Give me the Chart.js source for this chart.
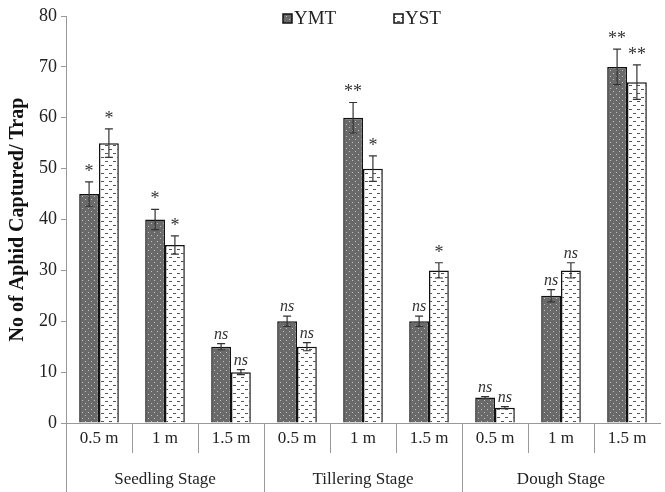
<!DOCTYPE html>
<html>
<head>
<meta charset="utf-8">
<script src="https://cdn.jsdelivr.net/npm/chart.js@4.4.0/dist/chart.umd.min.js"></script>
<style>
  body { margin: 0; background: #fff; }
  #wrap { width: 665px; height: 492px; }
</style>
</head>
<body>
<div id="wrap"><canvas id="myChart" width="665" height="492"></canvas></div>
<script>
// data
const stages = ['Seedling Stage', 'Tillering Stage', 'Dough Stage'];
const distances = ['0.5 m', '1 m', '1.5 m'];
const yTicks = [0, 10, 20, 30, 40, 50, 60, 70, 80];

const ymtValues = [45, 40, 15, 20, 60, 20, 5, 25, 70];
const ystValues = [55, 35, 10, 15, 50, 30, 3, 30, 67];
const ymtErrors = [2.4, 2.0, 0.6, 1.0, 3.0, 1.0, 0.2, 1.2, 3.5];
const ystErrors = [2.8, 1.8, 0.5, 0.8, 2.5, 1.5, 0.2, 1.5, 3.4];
const ymtSig = ['*', '*', 'ns', 'ns', '**', 'ns', 'ns', 'ns', '**'];
const ystSig = ['*', '*', 'ns', 'ns', '*', '*', 'ns', 'ns', '**'];

const categories = [];
stages.forEach(s => distances.forEach(d => categories.push(d)));

const serif = '"Liberation Serif", "Times New Roman", serif';

// fill patterns
function dotPattern() {
    const c = document.createElement('canvas');
    c.width = 6; c.height = 6;
    const g = c.getContext('2d');
    g.fillStyle = '#6a6a6a';
    g.fillRect(0, 0, 6, 6);
    g.fillStyle = '#c0c0c0';
    g.fillRect(1, 1, 1, 1);
    g.fillRect(4, 4, 1, 1);
    return g.createPattern(c, 'repeat');
}
function dashPattern() {
    const c = document.createElement('canvas');
    c.width = 8; c.height = 8;
    const g = c.getContext('2d');
    g.fillStyle = '#ffffff';
    g.fillRect(0, 0, 8, 8);
    g.fillStyle = '#555';
    g.fillRect(1, 1, 3, 1);
    g.fillRect(5, 5, 3, 1);
    return g.createPattern(c, 'repeat');
}
const ymtFill = dotPattern();
const ystFill = dashPattern();

const extras = {
    id: 'extras',
    afterDatasetsDraw(chart) {
        const ctx = chart.ctx;
        const x = chart.scales.x, y = chart.scales.y;
        const area = chart.chartArea;
        ctx.save();

        // error bars + significance labels
        const sets = [[ymtErrors, ymtSig], [ystErrors, ystSig]];
        sets.forEach(([errs, sig], di) => {
            const meta = chart.getDatasetMeta(di);
            const vals = chart.data.datasets[di].data;
            meta.data.forEach((bar, i) => {
                const cx = bar.x;
                const top = y.getPixelForValue(vals[i] + errs[i]);
                const bot = y.getPixelForValue(vals[i] - errs[i]);
                ctx.strokeStyle = '#333';
                ctx.lineWidth = 1.2;
                ctx.beginPath();
                ctx.moveTo(cx, top); ctx.lineTo(cx, bot);
                ctx.moveTo(cx - 4, top); ctx.lineTo(cx + 4, top);
                ctx.moveTo(cx - 4, bot); ctx.lineTo(cx + 4, bot);
                ctx.stroke();

                ctx.fillStyle = '#333';
                ctx.textAlign = 'center';
                ctx.textBaseline = 'alphabetic';
                if (sig[i] === 'ns') {
                    ctx.font = 'italic 16px ' + serif;
                    ctx.fillText('ns', cx, top - 5);
                } else {
                    ctx.font = '18px ' + serif;
                    ctx.fillText(sig[i], cx, top - 5);
                }
            });
        });

        // two level x axis labels
        const step = x.getPixelForValue(1) - x.getPixelForValue(0);
        ctx.strokeStyle = '#999';
        ctx.lineWidth = 1;
        ctx.beginPath();
        ctx.moveTo(area.left + 0.5, area.bottom);
        ctx.lineTo(area.left + 0.5, chart.height);
        for (let i = 1; i < categories.length; i++) {
            const px = Math.round(x.getPixelForValue(i) - step / 2) + 0.5;
            ctx.moveTo(px, area.bottom);
            ctx.lineTo(px, i % 3 === 0 ? chart.height : area.bottom + 30);
        }
        ctx.stroke();

        ctx.fillStyle = '#222';
        ctx.font = '17px ' + serif;
        ctx.textAlign = 'center';
        ctx.textBaseline = 'middle';
        categories.forEach((lab, i) => {
            ctx.fillText(lab, x.getPixelForValue(i), area.bottom + 16);
        });
        stages.forEach((s, k) => {
            const cx = (x.getPixelForValue(k * 3) + x.getPixelForValue(k * 3 + 2)) / 2;
            ctx.fillText(s, cx, area.bottom + 57);
        });

        // legend
        const items = [['YMT', ymtFill, 296], ['YST', ystFill, 407]];
        ctx.font = '19px ' + serif;
        ctx.textAlign = 'left';
        items.forEach(([t, f, lx]) => {
            ctx.fillStyle = f;
            ctx.fillRect(lx - 13, 14, 9, 9);
            ctx.strokeStyle = '#111';
            ctx.lineWidth = 1.5;
            ctx.strokeRect(lx - 13, 14, 9, 9);
            ctx.fillStyle = '#222';
            ctx.fillText(t, lx - 2, 19);
        });
        ctx.restore();
    }
};

const data = {
    labels: categories,
    datasets: [
        {
            label: 'YMT',
            data: ymtValues,
            backgroundColor: ymtFill,
            borderColor: '#111',
            borderWidth: 1.5
        },
        {
            label: 'YST',
            data: ystValues,
            backgroundColor: ystFill,
            borderColor: '#111',
            borderWidth: 1.5
        }
    ]
};

const config = {
    type: 'bar',
    data: data,
    options: {
        responsive: false,
        animation: false,
        layout: { padding: { top: 16, right: 5, bottom: 61, left: 0 } },
        datasets: { bar: { categoryPercentage: 0.6, barPercentage: 1 } },
        plugins: {
            legend: { display: false },
            tooltip: { enabled: false }
        },
        scales: {
            x: {
                grid: { display: false },
                border: { display: true, color: '#999' },
                ticks: { display: false }
            },
            y: {
                min: 0,
                max: 80,
                afterFit(scale) { scale.width = 66; },
                afterBuildTicks(scale) { scale.ticks = yTicks.map(v => ({ value: v })); },
                grid: { drawOnChartArea: false, drawTicks: true, tickLength: 5, color: '#999' },
                border: { display: true, color: '#999' },
                ticks: {
                    color: '#222',
                    font: { family: serif, size: 18 },
                    padding: 4
                },
                title: {
                    display: true,
                    text: 'No of Aphid Captured/ Trap',
                    color: '#111',
                    font: { family: serif, size: 20, weight: 'bold' },
                    padding: { top: 6, bottom: 0 }
                }
            }
        }
    },
    plugins: [extras]
};

const myChart = new Chart(document.getElementById('myChart'), config);
</script>
</body>
</html>
